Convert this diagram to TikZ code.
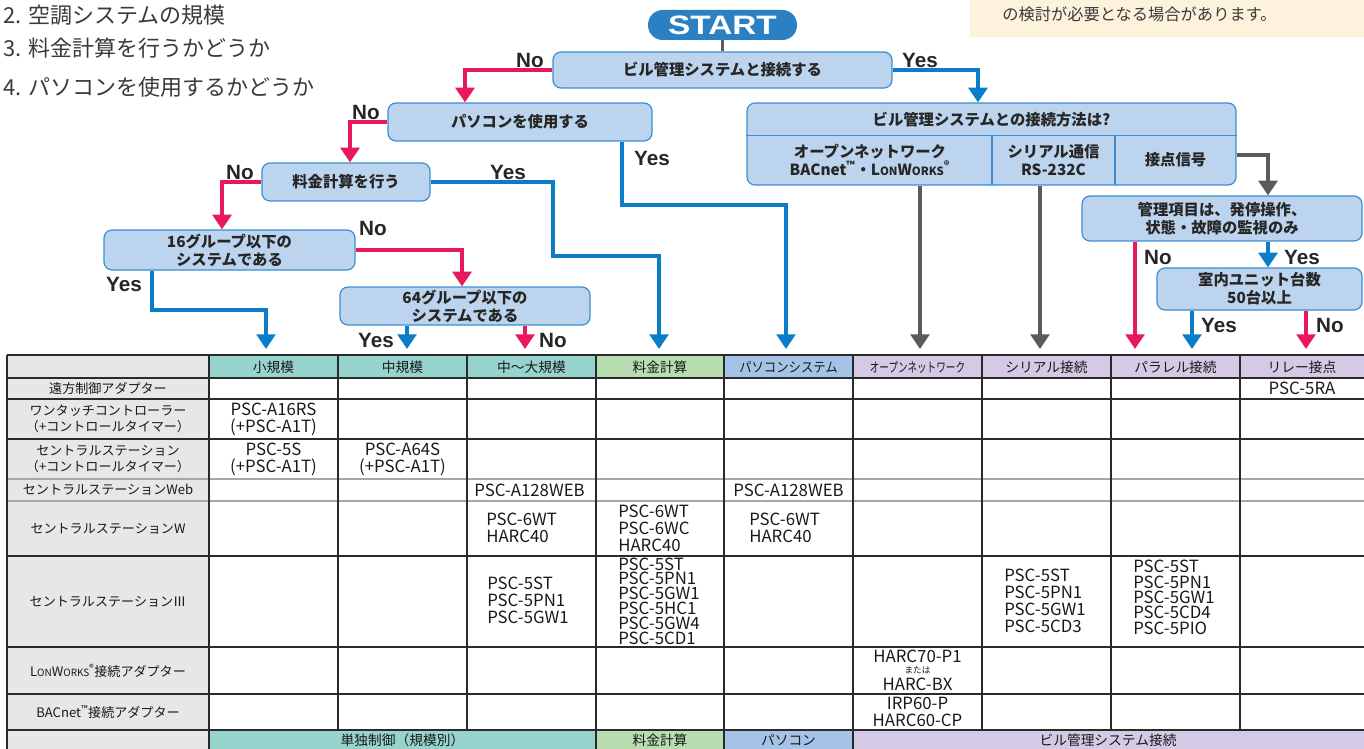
\documentclass[tikz,border=0pt]{standalone}
\usepackage{fontspec}
\usepackage{graphicx}
\setmainfont{Noto Sans CJK JP}
\newfontfamily\lat{Liberation Sans}
\usetikzlibrary{arrows.meta,calc}
\definecolor{bfill}{HTML}{BDD4EE}
\definecolor{bdraw}{HTML}{3B8ED3}
\definecolor{cred}{HTML}{E8195B}
\definecolor{cblue}{HTML}{0A7DC8}
\definecolor{cgray}{HTML}{5B5B5B}
\definecolor{startc}{HTML}{2B80C4}
\definecolor{cream}{HTML}{FDF3DC}
\definecolor{hteal}{HTML}{97D4CE}
\definecolor{hgreen}{HTML}{B7DDB1}
\definecolor{hblue}{HTML}{A4C3E7}
\definecolor{hlav}{HTML}{D4CAE5}
\definecolor{hgray}{HTML}{E6E7E8}
\definecolor{tline}{HTML}{2A2A2A}
\definecolor{txt}{HTML}{3A3A3A}
\tikzset{
  wh/.style 2 args={minimum width=#1*0.75pt, minimum height=#2*0.75pt},
  box/.style={draw=bdraw, fill=bfill, line width=0.9pt, rounded corners=6pt, inner sep=0pt, align=center, font=\bfseries\fontsize{11.5}{13.5}\selectfont, text=black!85},
  conn/.style={line width=3pt, -{Triangle[width=14pt,length=11pt]}},
  ra/.style={conn, cred},
  ba/.style={conn, cblue},
  ga/.style={conn, cgray},
  lbl/.style={font=\lat\bfseries\fontsize{15.5}{16}\selectfont, text=black!85, inner sep=0pt},
  cell/.style={font=\fontsize{12.6}{12.75}\selectfont, align=center, inner sep=0pt, text=black!90},
  lcell/.style={cell, align=left, anchor=west},
  rowlbl/.style={font=\fontsize{9.8}{12.2}\selectfont, align=center, inner sep=0pt, text=black!90},
  hd/.style={font=\fontsize{10.3}{12}\selectfont, inner sep=0pt, text=black!90},
  top/.style={anchor=west, inner sep=0pt, text=txt, font=\fontsize{16.5}{18}\selectfont},
}
\newcommand{\lonw}[1]{L{\fontsize{#1}{#1}\selectfont ON}W{\fontsize{#1}{#1}\selectfont ORKS}}
\begin{document}
\begin{tikzpicture}[x=0.75pt, y=-0.75pt]
\useasboundingbox (0,0) rectangle (1364,749);
% ---------- top texts ----------
\node[top] (h2) at (3,15) {2. 空調システムの規模};
\node[top] (h3) at (3,48) {3. 料金計算を行うかどうか};
\node[top] (h4) at (3,87) {4. パソコンを使用するかどうか};
\fill[cream] (970,0) rectangle (1364,37);
\node[anchor=west, inner sep=0pt, text=txt, font=\fontsize{12.2}{14}\selectfont] (note) at (1002,14) {の検討が必要となる場合があります。};
% ---------- flowchart nodes ----------
\node[fill=startc, wh={149}{30}, rounded corners=11pt, inner sep=0pt, text=white, font=\lat\bfseries\fontsize{20}{20}\selectfont] (start) at (722.5,25) {\scalebox{1.25}[1]{START}};
\node[box, wh={339}{36}] (b1) at (722.5,70) {ビル管理システムと接続する};
\node[box, wh={264}{38}] (b2) at (520,122) {パソコンを使用する};
\node[box, wh={168}{38}] (b3) at (346,182) {料金計算を行う};
\node[box, wh={251}{40}] (b4) at (229.5,250) {16グループ以下の\\システムである};
\node[box, wh={250}{38}] (b5) at (465,306) {64グループ以下の\\システムである};
\node[box, wh={489}{82}] (b6) at (991.5,144) {};
\node[box, wh={280}{45}] (b7) at (1222,218.5) {管理項目は、発停操作、\\状態・故障の監視のみ};
\node[box, wh={205}{42}] (b8) at (1259.5,289) {室内ユニット台数\\50台以上};
% inner structure of b6
\draw[bdraw, line width=0.9pt] ($(b6.north west)+(0,33)$) -- ($(b6.north east)+(0,33)$);
\draw[bdraw, line width=0.9pt] (992,136) -- (992,185);
\draw[bdraw, line width=0.9pt] (1115,136) -- (1115,185);
\node[font=\bfseries\fontsize{11.5}{13.5}\selectfont, text=black!85, inner sep=0pt] (q0) at (991.5,119.5) {ビル管理システムとの接続方法は?};
\node[font=\bfseries\fontsize{11.5}{13.5}\selectfont, text=black!85, inner sep=0pt, align=center] (q1) at (870,160) {オープンネットワーク\\BACnet\textsuperscript{™}・\lonw{8.5}\textsuperscript{®}};
\node[font=\bfseries\fontsize{11.5}{13.5}\selectfont, text=black!85, inner sep=0pt, align=center] (q2) at (1053.5,160) {シリアル通信\\RS-232C};
\node[font=\bfseries\fontsize{11.5}{13.5}\selectfont, text=black!85, inner sep=0pt, align=center] (q3) at (1175.5,160) {接点信号};
% ---------- connector end points ----------
\coordinate (cSmall) at (266,349);
\coordinate (cMid) at (407,349);
\coordinate (cLarge) at (525,349);
\coordinate (cRyo) at (659,349);
\coordinate (cPC) at (786,349);
\coordinate (cOpen) at (920,349);
\coordinate (cSer) at (1040,349);
\coordinate (cPar1) at (1135,349);
\coordinate (cPar2) at (1192,349);
\coordinate (cRelay) at (1306,349);
\coordinate (k1) at (786,205);
\coordinate (k2) at (553,256);
\coordinate (k4) at (152,310);
% ---------- connectors ----------
\draw[cgray, line width=2.4pt] (start.south) -- (b1.north);
\draw[ra] (b1.west) -| (465,0 |- b2.north);
\draw[ba] (b1.east) -| (978,0 |- b6.north);
\draw[ra] (b2.west) -| (350,0 |- b3.north);
\draw[ba] (622,0 |- b2.south) |- (k1) -- (cPC);
\draw[ra] (b3.west) -| (222,0 |- b4.north);
\draw[ba] (b3.east) -| (k2) -| (cRyo);
\draw[ra] (b4.east) -| (462,0 |- b5.north);
\draw[ba] (152,0 |- b4.south) -- (k4) -| (cSmall);
\draw[ba] (407,0 |- b5.south) -- (cMid);
\draw[ra] (525,0 |- b5.south) -- (cLarge);
\draw[ga] (920,0 |- b6.south) -- (cOpen);
\draw[ga] (1040,0 |- b6.south) -- (cSer);
\draw[ga] ($(b6.east)+(0,11)$) -| (1268,0 |- b7.north);
\draw[ra] (1135,0 |- b7.south) -- (cPar1);
\draw[ba] (1268,0 |- b7.south) -- (1268,0 |- b8.north);
\draw[ba] (1192,0 |- b8.south) -- (cPar2);
\draw[ra] (1306,0 |- b8.south) -- (cRelay);
% ---------- labels ----------
\node[lbl] (l1) at (530,60) {No};
\node[lbl] (l2) at (920,60) {Yes};
\node[lbl] (l3) at (366,112) {No};
\node[lbl] (l4) at (652,158) {Yes};
\node[lbl] (l5) at (240,172) {No};
\node[lbl] (l6) at (508,172) {Yes};
\node[lbl] (l7) at (373,228) {No};
\node[lbl] (l8) at (124,284) {Yes};
\node[lbl] (l9) at (376,340) {Yes};
\node[lbl] (l10) at (553,340) {No};
\node[lbl] (l11) at (1158,257) {No};
\node[lbl] (l12) at (1302,257) {Yes};
\node[lbl] (l13) at (1219,325) {Yes};
\node[lbl] (l14) at (1330,325) {No};
% ---------- table fills ----------
\fill[hgray] (7,355) rectangle (209,749);
\fill[hteal] (209,355) rectangle (596,378);
\fill[hgreen] (596,355) rectangle (724,378);
\fill[hblue] (724,355) rectangle (853,378);
\fill[hlav] (853,355) rectangle (1364,378);
\fill[hteal] (209,730) rectangle (596,749);
\fill[hgreen] (596,730) rectangle (724,749);
\fill[hblue] (724,730) rectangle (853,749);
\fill[hlav] (853,730) rectangle (1364,749);
% ---------- table lines ----------
\foreach \yy in {399,439,556,647,694} \draw[tline, line width=0.8pt] (7,\yy) -- (1364,\yy);
\foreach \yy in {479,501} \draw[black!35, line width=0.8pt] (7,\yy) -- (1364,\yy);
\draw[tline, line width=1.7pt] (7,355) -- (1364,355);
\draw[tline, line width=1.4pt] (7,378) -- (1364,378);
\draw[tline, line width=1.4pt] (7,730) -- (1364,730);
\foreach \xx in {7,209,596,724,853} \draw[tline, line width=1.3pt] (\xx,355) -- (\xx,749);
\foreach \xx in {338,467,982,1111,1240} \draw[tline, line width=0.8pt] (\xx,355) -- (\xx,730);
% ---------- header ----------
\node[hd] (hA) at (273.5,367) {小規模};
\node[hd] (hB) at (402.5,367) {中規模};
\node[hd] (hC) at (531.5,367) {中～大規模};
\node[hd] (hD) at (660,367) {料金計算};
\node[hd] (hE) at (788.5,367) {\scalebox{0.9}[1]{パソコンシステム}};
\node[hd] (hF) at (917.5,367) {\scalebox{0.72}[1]{\fontsize{10}{12}\selectfont オープンネットワーク}};
\node[hd] (hG) at (1046.5,367) {シリアル接続};
\node[hd] (hH) at (1175.5,367) {パラレル接続};
\node[hd] (hI) at (1302,367) {リレー接点};
% ---------- row labels ----------
\node[rowlbl] (r1) at (108,388.5) {遠方制御アダプター};
\node[rowlbl] (r2) at (108,419) {ワンタッチコントローラー\\（+コントロールタイマー）};
\node[rowlbl] (r3) at (108,459) {セントラルステーション\\（+コントロールタイマー）};
\node[rowlbl] (r4) at (108,490) {セントラルステーションWeb};
\node[rowlbl] (r5) at (108,528.5) {セントラルステーションW};
\node[rowlbl] (r6) at (108,601.5) {セントラルステーションⅢ};
\node[rowlbl] (r7) at (108,670.5) {\lonw{7.5}\textsuperscript{®}接続アダプター};
\node[rowlbl] (r8) at (108,712) {BACnet\textsuperscript{™}接続アダプター};
% ---------- data ----------
\node[cell] (d15) at (1302,388.5) {PSC-5RA};
\node[cell] (d21) at (273.5,419) {PSC-A16RS\\(+PSC-A1T)};
\node[cell] (d31) at (273.5,459) {PSC-5S\\(+PSC-A1T)};
\node[cell] (d32) at (402.5,459) {PSC-A64S\\(+PSC-A1T)};
\node[cell] (d43) at (529.5,490) {PSC-A128WEB};
\node[cell] (d45) at (788.5,490) {PSC-A128WEB};
\node[lcell] (d53) at (486,528) {PSC-6WT\\HARC40};
\node[lcell] (d54) at (618,528) {PSC-6WT\\PSC-6WC\\HARC40};
\node[lcell] (d55) at (749,528) {PSC-6WT\\HARC40};
\node[lcell] (d63) at (487,600) {PSC-5ST\\PSC-5PN1\\PSC-5GW1};
\node[lcell, font=\fontsize{12.6}{11.1}\selectfont] (d64) at (618,601) {PSC-5ST\\PSC-5PN1\\PSC-5GW1\\PSC-5HC1\\PSC-5GW4\\PSC-5CD1};
\node[lcell] (d67) at (1004,600.5) {PSC-5ST\\PSC-5PN1\\PSC-5GW1\\PSC-5CD3};
\node[lcell, font=\fontsize{12.6}{11.5}\selectfont] (d68) at (1133,597.5) {PSC-5ST\\PSC-5PN1\\PSC-5GW1\\PSC-5CD4\\PSC-5PIO};
\node[cell, font=\fontsize{12.6}{10.5}\selectfont] (d76) at (917.5,670) {HARC70-P1\\[-1.8pt]{\fontsize{6.5}{7}\selectfont または}\\[1.8pt]HARC-BX};
\node[cell] (d86) at (917.5,712) {IRP60-P\\HARC60-CP};
% ---------- footer ----------
\node[hd] (f1) at (402.5,740.5) {単独制御（規模別）};
\node[hd] (f2) at (660,740.5) {料金計算};
\node[hd] (f3) at (788.5,740.5) {パソコン};
\node[hd] (f4) at (1108,740.5) {ビル管理システム接続};
\end{tikzpicture}
\end{document}
